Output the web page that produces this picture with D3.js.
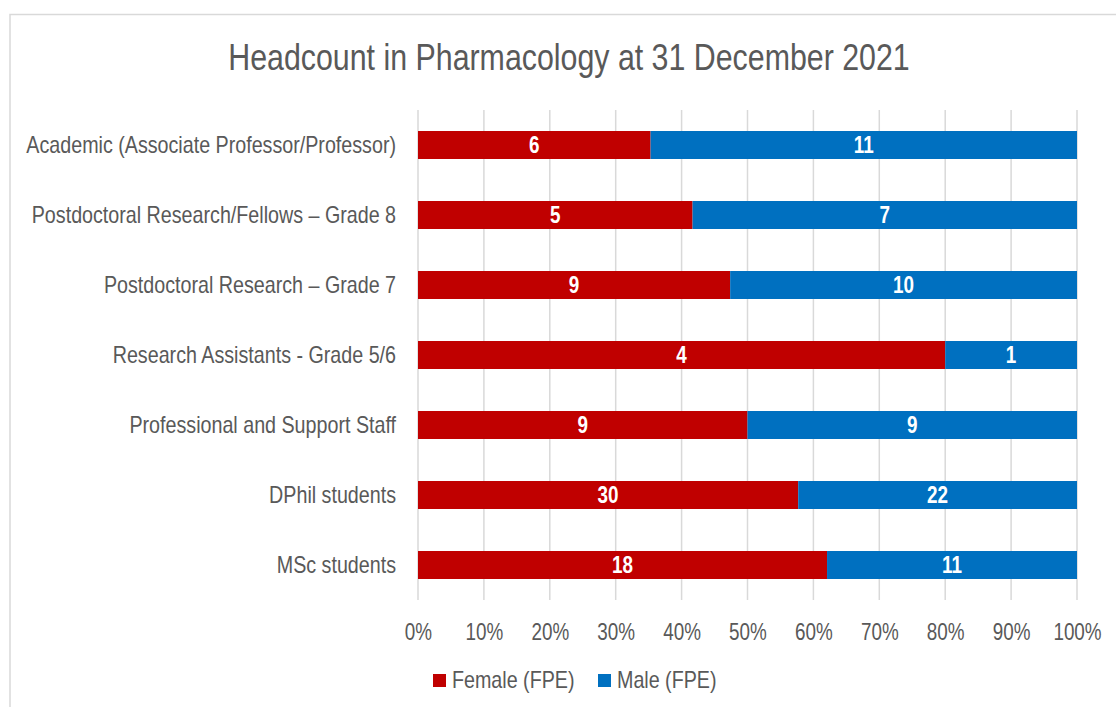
<!DOCTYPE html>
<meta charset="utf-8">
<style>
  body { margin: 0; background: #fff; }
  text { font-family: "Liberation Sans Narrow", "Arial Narrow", "Liberation Sans", Arial, sans-serif; }
</style>
<body>
<script src="https://d3js.org/d3.v7.min.js"></script>
<script>
  // chart data
  const categories = [
    "Academic (Associate Professor/Professor)",
    "Postdoctoral Research/Fellows \u2013 Grade 8",
    "Postdoctoral Research \u2013 Grade 7",
    "Research Assistants - Grade 5/6",
    "Professional and Support Staff",
    "DPhil students",
    "MSc students"
  ];
  const female = [6, 5, 9, 4, 9, 30, 18];
  const male = [11, 7, 10, 1, 9, 22, 11];
  const seriesNames = ["Female (FPE)", "Male (FPE)"];
  const colors = ["#C00000", "#0070C0"];
  const ticks = [0, 0.1, 0.2, 0.3, 0.4, 0.5, 0.6, 0.7, 0.8, 0.9, 1];

  const W = 1116, H = 707;
  const margin = {top: 110, right: 39, bottom: 107, left: 418};
  const width = W - margin.left - margin.right;
  const height = H - margin.top - margin.bottom;

  // no narrow face installed, so squeeze regular glyphs to a narrow width
  function narrow(sel) {
    sel.each(function() {
      const len = this.getComputedTextLength();
      d3.select(this).attr("textLength", len * 0.82).attr("lengthAdjust", "spacingAndGlyphs");
    });
  }

  const svg = d3.select("body").append("svg")
      .attr("width", W).attr("height", H);

  // chart frame
  svg.append("rect")
      .attr("x", 10).attr("y", 14.5)
      .attr("width", W + 20).attr("height", H + 20)
      .attr("fill", "none").attr("stroke", "#d9d9d9").attr("stroke-width", 1.5);

  svg.append("text")
      .attr("x", 569).attr("y", 70)
      .attr("text-anchor", "middle")
      .attr("font-size", 37)
      .attr("fill", "#595959")
      .text("Headcount in Pharmacology at 31 December 2021")
      .call(narrow);

  const g = svg.append("g")
      .attr("transform", "translate(" + margin.left + "," + margin.top + ")");

  const x = d3.scaleLinear().domain([0, 1]).range([0, width]);
  const y = d3.scaleBand().domain(categories).range([0, height]).paddingInner(0.6).paddingOuter(0.3);

  // gridlines
  g.selectAll(".grid").data(ticks).join("line")
      .attr("x1", d => x(d)).attr("x2", d => x(d))
      .attr("y1", 0).attr("y2", height)
      .attr("stroke", "#d9d9d9").attr("stroke-width", 1.5);

  const rows = categories.map((c, i) => {
    const tot = female[i] + male[i];
    return [
      {cat: c, x0: 0, x1: female[i] / tot, v: female[i], s: 0},
      {cat: c, x0: female[i] / tot, x1: 1, v: male[i], s: 1}
    ];
  }).flat();

  g.selectAll(".bar").data(rows).join("rect")
      .attr("x", d => x(d.x0))
      .attr("width", d => x(d.x1) - x(d.x0))
      .attr("y", d => y(d.cat))
      .attr("height", y.bandwidth())
      .attr("fill", d => colors[d.s]);

  g.selectAll(".lbl").data(rows).join("text")
      .attr("x", d => (x(d.x0) + x(d.x1)) / 2)
      .attr("y", d => y(d.cat) + y.bandwidth() / 2)
      .attr("dy", "0.36em")
      .attr("text-anchor", "middle")
      .attr("font-size", 23)
      .attr("font-weight", "bold")
      .attr("fill", "#fff")
      .text(d => d.v)
      .call(narrow);

  // y axis labels
  const yAxis = d3.axisLeft(y).tickSize(0).tickPadding(22);
  g.append("g").call(yAxis)
      .attr("font-family", null)
      .call(a => a.select(".domain").remove())
      .selectAll("text")
      .attr("font-size", 24)
      .attr("fill", "#595959")
      .call(narrow);

  // x axis labels
  const xAxis = d3.axisBottom(x).tickValues(ticks).tickFormat(d3.format(".0%")).tickSize(0).tickPadding(24);
  g.append("g").attr("transform", "translate(0," + height + ")").call(xAxis)
      .attr("font-family", null)
      .call(a => a.select(".domain").remove())
      .selectAll("text")
      .attr("font-size", 23)
      .attr("fill", "#595959")
      .call(narrow);

  // legend
  const legend = svg.append("g").attr("transform", "translate(433,674)");
  const items = legend.selectAll("g").data(seriesNames).join("g")
      .attr("transform", (d, i) => "translate(" + (i * 165) + ",0)");
  items.append("rect").attr("width", 13).attr("height", 13).attr("fill", (d, i) => colors[i]);
  items.append("text").attr("x", 19).attr("y", 5).attr("dy", "0.36em")
      .attr("font-size", 24).attr("fill", "#595959").text(d => d)
      .call(narrow);
</script>
</body>
